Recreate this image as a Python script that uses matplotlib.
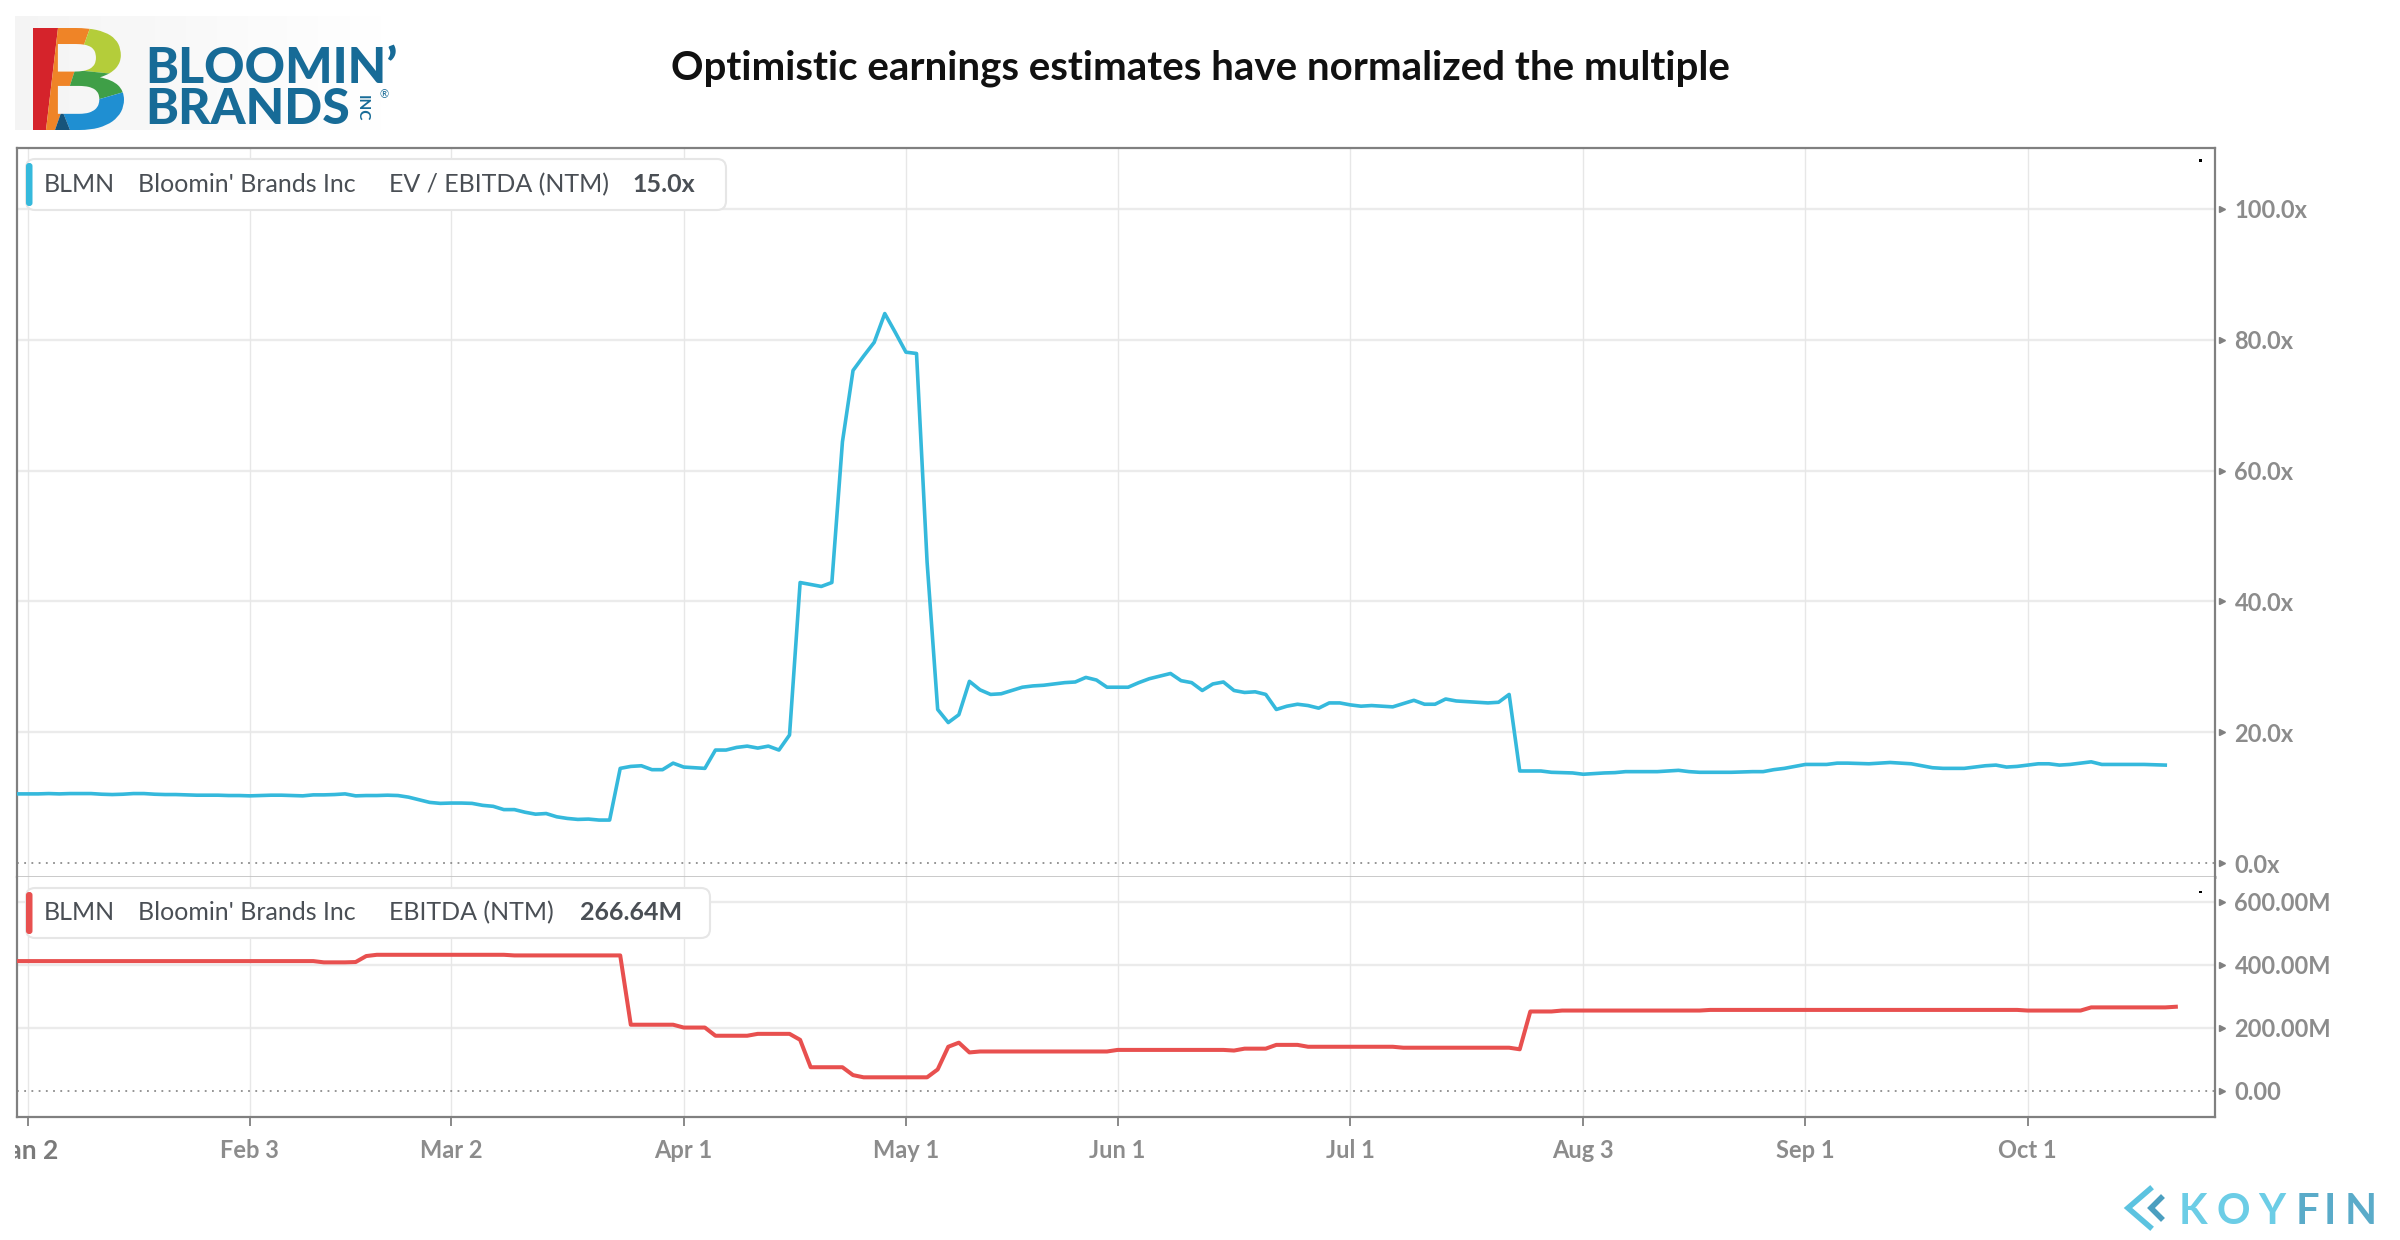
import pandas as pd
import matplotlib.pyplot as plt
import numpy as np
from matplotlib.patches import FancyBboxPatch, Rectangle, Polygon, PathPatch
from matplotlib.textpath import TextPath
from matplotlib.font_manager import FontProperties
from matplotlib.transforms import Affine2D, blended_transform_factory
from matplotlib.lines import Line2D

plt.rcParams['font.family'] = ['Lato', 'DejaVu Sans']

# -----------------------------
# data (trading days, 31 Dec 2019 -> 21 Oct 2020)
# -----------------------------
nyse_holidays = ["2020-01-01", "2020-01-20", "2020-02-17", "2020-04-10",
                 "2020-05-25", "2020-07-03", "2020-09-07"]
dates = pd.bdate_range("2019-12-31", "2020-10-21")
dates = dates[~dates.isin(pd.to_datetime(nyse_holidays))]

tick_dates = ["2020-01-02", "2020-02-03", "2020-03-02", "2020-04-01", "2020-05-01",
              "2020-06-01", "2020-07-01", "2020-08-03", "2020-09-01", "2020-10-01"]
tick_labels = ["Jan 2", "Feb 3", "Mar 2", "Apr 1", "May 1",
               "Jun 1", "Jul 1", "Aug 3", "Sep 1", "Oct 1"]

# EV / EBITDA (NTM), x
ev_ebitda = [
    10.6, 10.6, 10.6, 10.65, 10.6, 10.65, 10.65, 10.65, 10.55, 10.5,
    10.55, 10.65, 10.65, 10.55, 10.5, 10.5, 10.45, 10.4, 10.4, 10.4,
    10.35, 10.35, 10.3, 10.35, 10.4, 10.4, 10.35, 10.3, 10.45, 10.45,
    10.5, 10.6, 10.3, 10.35, 10.35, 10.4, 10.35, 10.1, 9.7, 9.3,
    9.15, 9.2, 9.2, 9.15, 8.85, 8.7, 8.2, 8.2, 7.8, 7.5,
    7.6, 7.1, 6.85, 6.7, 6.75, 6.6, 6.6, 14.5, 14.8, 14.9,
    14.3, 14.3, 15.3, 14.7, 14.6, 14.5, 17.3, 17.3, 17.7, 17.9,
    17.6, 17.9, 17.3, 19.6, 42.9, 42.6, 42.3, 42.9, 64.4, 75.3,
    77.5, 79.6, 84.0, 81.1, 78.1, 77.9, 46.0, 23.5, 21.5, 22.7,
    27.8, 26.5, 25.8, 25.9, 26.4, 26.9, 27.1, 27.2, 27.4, 27.6,
    27.7, 28.4, 28.0, 26.9, 26.9, 26.9, 27.6, 28.2, 28.6, 29.0,
    27.9, 27.6, 26.4, 27.4, 27.7, 26.4, 26.1, 26.2, 25.8, 23.5,
    24.0, 24.3, 24.1, 23.7, 24.5, 24.5, 24.2, 24.0, 24.1, 24.0,
    23.9, 24.4, 24.9, 24.3, 24.3, 25.1, 24.8, 24.7, 24.6, 24.5,
    24.6, 25.8, 14.1, 14.1, 14.1, 13.9, 13.85, 13.8, 13.6, 13.7,
    13.8, 13.85, 14.0, 14.0, 14.0, 14.0, 14.1, 14.2, 14.0, 13.9,
    13.9, 13.9, 13.9, 13.95, 14.0, 14.0, 14.3, 14.5, 14.8, 15.1,
    15.1, 15.1, 15.3, 15.3, 15.25, 15.2, 15.3, 15.4, 15.3, 15.2,
    14.9, 14.6, 14.5, 14.5, 14.5, 14.7, 14.9, 15.0, 14.7, 14.8,
    15.0, 15.2, 15.2, 15.0, 15.1, 15.3, 15.5, 15.1, 15.1, 15.1,
    15.1, 15.1, 15.05, 15.0,
]

# EBITDA (NTM), $M
ebitda = [
    412, 412, 412, 412, 412, 412, 412, 412, 412, 412,
    412, 412, 412, 412, 412, 412, 412, 412, 412, 412,
    412, 412, 412, 412, 412, 412, 412, 412, 412, 408,
    408, 408, 409, 428, 432, 432, 432, 432, 432, 432,
    432, 432, 432, 432, 432, 432, 432, 430, 430, 430,
    430, 430, 430, 430, 430, 430, 430, 430, 210, 210,
    210, 210, 210, 201, 201, 201, 175, 175, 175, 175,
    181, 181, 181, 181, 162, 75, 75, 75, 75, 50,
    43, 43, 43, 43, 43, 43, 43, 68, 140, 153,
    122, 125, 125, 125, 125, 125, 125, 125, 125, 125,
    125, 125, 125, 125, 130, 130, 130, 130, 130, 130,
    130, 130, 130, 130, 130, 128, 134, 134, 134, 146,
    146, 146, 140, 140, 140, 140, 140, 140, 140, 140,
    140, 137, 137, 137, 137, 137, 137, 137, 137, 137,
    137, 137, 132, 252, 252, 252, 255, 255, 255, 255,
    255, 255, 255, 255, 255, 255, 255, 255, 255, 255,
    257, 257, 257, 257, 257, 257, 257, 257, 257, 257,
    257, 257, 257, 257, 257, 257, 257, 257, 257, 257,
    257, 257, 257, 257, 257, 257, 257, 257, 257, 257,
    255, 255, 255, 255, 255, 255, 265, 265, 265, 265,
    265, 265, 265, 265, 267,
]

ev_ticks = [0, 20, 40, 60, 80, 100]
ev_tick_labels = ["0.0x", "20.0x", "40.0x", "60.0x", "80.0x", "100.0x"]
ebitda_ticks = [0, 200, 400, 600]
ebitda_tick_labels = ["0.00", "200.00M", "400.00M", "600.00M"]

BLUE = "#35b9dc"
RED = "#e8504f"
FRAME = "#808080"
GRID = "#ebebeb"
TICKTXT = "#8c8c8c"
LEGTXT = "#4a4f55"

W, H = 2400, 1240
fig = plt.figure(figsize=(24, 12.4), dpi=100)
inch = fig.dpi_scale_trans


def fx(x):
    return x / W


def fy(y):
    return 1 - y / H


def pin(x, y):
    # pixel (top-down) -> inches for dpi_scale_trans
    return x / 100, (H - y) / 100


x_idx = list(range(len(dates)))
tick_pos = [dates.get_loc(pd.Timestamp(d)) for d in tick_dates]

# -----------------------------
# axes
# -----------------------------
left, right = 17, 2215
ax1 = fig.add_axes([fx(left), fy(877), (right - left) / W, (877 - 148) / H])
ax2 = fig.add_axes([fx(left), fy(1117), (right - left) / W, (1117 - 877) / H])

xmax = 207.7
ax1.set_xlim(0, xmax)
ax2.set_xlim(0, xmax)
ax1.set_ylim(-2.1, 109.3)
ax2.set_ylim(-83, 679)

for ax, ticks in [(ax1, ev_ticks), (ax2, ebitda_ticks)]:
    for v in ticks[1:]:
        ax.axhline(v, color=GRID, lw=1.7, zorder=0)
    ax.axhline(0, color="#8c8c8c", lw=1.3, ls=(0, (1, 3)), zorder=1)
    for t in tick_pos:
        ax.axvline(t, color="#e7e7e7", lw=1.0, zorder=0)
    ax.yaxis.tick_right()
    ax.set_yticks(ticks)
    ax.tick_params(axis="y", length=0, pad=14, labelsize=17, labelcolor=TICKTXT)
    tr = blended_transform_factory(ax.transAxes, ax.transData)
    ax.plot([1.003] * len(ticks), ticks, ls="none", marker=">", ms=5,
            color=FRAME, transform=tr, clip_on=False)

ax1.set_yticklabels(ev_tick_labels, fontweight="bold")
ax2.set_yticklabels(ebitda_tick_labels, fontweight="bold")

ax1.plot(x_idx[:len(ev_ebitda)], ev_ebitda, color=BLUE, lw=2.6, zorder=3)
ax2.plot(x_idx[:len(ebitda)], ebitda, color=RED, lw=2.9, zorder=3)

# frame
for s in ["top", "left", "right"]:
    ax1.spines[s].set_color(FRAME)
    ax1.spines[s].set_linewidth(1.6)
ax1.spines["bottom"].set_color("#c4c4c4")
ax1.spines["bottom"].set_linewidth(2.0)
ax2.spines["top"].set_visible(False)
for s in ["bottom", "left", "right"]:
    ax2.spines[s].set_color(FRAME)
    ax2.spines[s].set_linewidth(1.6)

ax1.tick_params(axis="x", bottom=False, labelbottom=False)
ax2.set_xticks(tick_pos)
ax2.set_xticklabels([""] + tick_labels[1:], fontweight="bold")
ax2.tick_params(axis="x", length=6.5, width=1.3, color=FRAME, labelsize=17,
                labelcolor=TICKTXT, pad=9)

# first date label, cut off at the left edge
fig.text(fx(58), fy(1151), tick_labels[0], ha="right", va="center",
         fontsize=19, fontweight="bold", color="#7a7a7a")
fig.patches.append(Rectangle(pin(0, 1180), 0.15, 0.6, transform=inch,
                             fc="white", ec="none", zorder=5))

# tiny dots top-right of each pane
for yy in [160, 891]:
    fig.patches.append(Rectangle(pin(2199, yy + 2), 0.025, 0.025, transform=inch,
                                 fc="black", ec="none"))

# -----------------------------
# legends
# -----------------------------
def legend_box(y0, y1, x1, color, parts):
    fig.patches.append(FancyBboxPatch(pin(26, y1), (x1 - 26) / 100, (y1 - y0) / 100,
                                      boxstyle="round,pad=0,rounding_size=0.09",
                                      transform=inch, fc="white", ec="#e6e6e6", lw=1.5,
                                      zorder=4))
    fig.patches.append(FancyBboxPatch(pin(26, y1 - 4), 0.065, (y1 - y0 - 8) / 100,
                                      boxstyle="round,pad=0,rounding_size=0.03",
                                      transform=inch, fc=color, ec="none", zorder=4))
    yc = (y0 + y1) / 2
    for xp, txt, wt in parts:
        fig.text(fx(xp), fy(yc), txt, ha="left", va="center", fontsize=18,
                 color=LEGTXT, fontweight=wt, zorder=6)


legend_box(159, 210, 726, BLUE,
           [(44, "BLMN", "normal"), (138, "Bloomin' Brands Inc", "normal"),
            (389, "EV / EBITDA (NTM)", "normal"), (632, "15.0x", "bold")])
legend_box(888, 938, 710, RED,
           [(44, "BLMN", "normal"), (138, "Bloomin' Brands Inc", "normal"),
            (389, "EBITDA (NTM)", "normal"), (580, "266.64M", "bold")])

# -----------------------------
# title
# -----------------------------
fig.text(fx(1200), fy(68), "Optimistic earnings estimates have normalized the multiple",
         ha="center", va="center", fontsize=29, fontweight="bold", color="#111111")

# -----------------------------
# Bloomin' Brands logo
# -----------------------------
lax = fig.add_axes([fx(15), fy(130), 389 / W, 114 / H])
grad = np.tile(np.linspace(0.09, 0.0, 50), (10, 1))
lax.imshow(grad, cmap="Greys", vmin=0, vmax=1, aspect="auto", extent=[0, 1, 0, 1])
lax.axis("off")

tp = TextPath((0, 0), "B", size=100, prop=FontProperties(family="Lato", weight="black"))
ext = tp.get_extents()
sx = (124 - 33) / ext.width
sy = (130 - 28) / ext.height
btrans = (Affine2D().translate(-ext.x0, -ext.y0).scale(sx / 100, sy / 100)
          .translate(33 / 100, (H - 130) / 100) + inch)
bpatch = PathPatch(tp, transform=btrans, fc="none", ec="none")
fig.patches.append(bpatch)

b_parts = [
    ("#d5232b", [(33, 28), (58, 28), (46, 130), (33, 130)]),
    ("#ef8427", [(58, 28), (90, 28), (75, 70), (62, 110), (55, 130), (46, 130)]),
    ("#b4cd3a", [(90, 28), (124, 28), (124, 75), (75, 70)]),
    ("#3f9f47", [(75, 70), (124, 75), (124, 92), (62, 110)]),
    ("#1f8fd2", [(62, 110), (124, 92), (124, 130), (70, 130)]),
    ("#17547a", [(62, 110), (70, 130), (55, 130)]),
]
for col, pts in b_parts:
    pg = Polygon([pin(x, y) for x, y in pts], closed=True, transform=inch,
                 fc=col, ec="none")
    pg.set_clip_path(bpatch)
    fig.patches.append(pg)

LOGO = "#176b97"
fig.text(fx(145), fy(83), "BLOOMIN\u2019", ha="left", va="baseline", fontsize=36,
         fontweight="black", color=LOGO)
fig.text(fx(145), fy(124), "BRANDS", ha="left", va="baseline", fontsize=36,
         fontweight="black", color=LOGO)
fig.text(fx(362), fy(108), "INC", ha="center", va="center", fontsize=11,
         fontweight="bold", color=LOGO, rotation=-90)
fig.text(fx(384), fy(95), "\u00ae", ha="center", va="center", fontsize=8, color=LOGO)

# -----------------------------
# KOYFIN mark
# -----------------------------
icon_a = [(2150, 1189), (2128, 1208), (2150, 1227)]
icon_b = [(2161, 1198), (2151, 1208), (2161, 1218)]
fig.lines.append(Line2D(*zip(*[pin(x, y) for x, y in icon_a]), transform=inch,
                        color="#5cc3e0", lw=4, solid_joinstyle="miter"))
fig.lines.append(Line2D(*zip(*[pin(x, y) for x, y in icon_b]), transform=inch,
                        color="#4b9fc0", lw=4, solid_joinstyle="miter"))
for xp, ch, col in [(2193, "K", "#6ccde6"), (2233, "O", "#6ccde6"), (2272, "Y", "#6ccde6"),
                    (2307, "F", "#5aabc9"), (2330, "I", "#5aabc9"), (2361, "N", "#5aabc9")]:
    fig.text(fx(xp), fy(1224), ch, ha="center", va="baseline", fontsize=30,
             fontweight="bold", color=col)

fig.savefig("out.png", dpi=100)
